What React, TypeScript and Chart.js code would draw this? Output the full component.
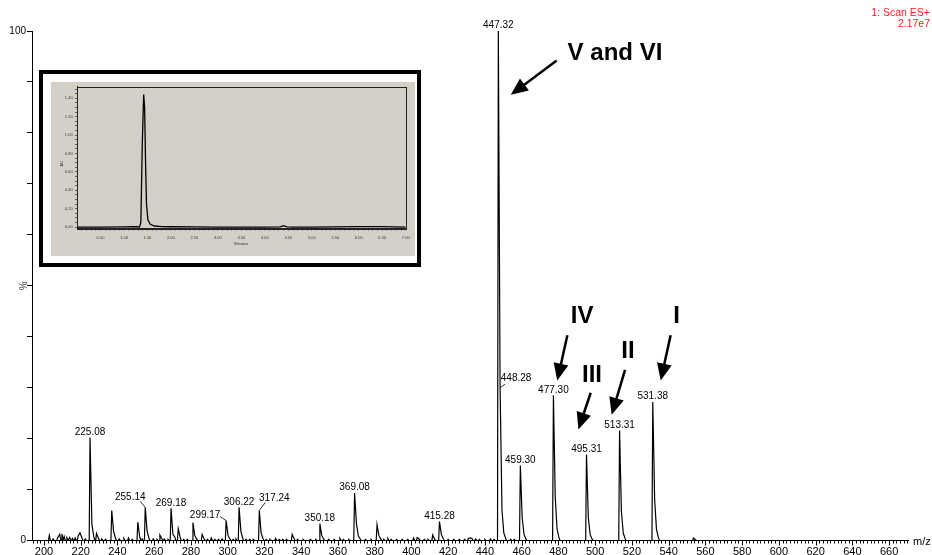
import { useEffect, useRef } from 'react';
import { Chart, registerables } from 'chart.js';

Chart.register(...registerables);

const SANS = "'Liberation Sans', Arial, Helvetica, sans-serif";

// ESI+ scan: m/z of each resolved peak and its relative intensity (% of base peak)
const peakMz = [
  202.9, 205.0, 207.5, 208.6, 209.8, 211.0, 212.5, 214.0, 215.5, 217.0, 218.6, 219.6, 220.6, 222.5,
  225.08, 226.1, 227.1, 228.6, 229.6, 231.5, 233.5,
  236.9, 237.9, 238.9, 241.0, 243.5, 246.0, 248.0,
  251.1, 252.1, 253.5, 255.14, 256.1, 257.1, 259.5, 261.5, 263.1, 264.1, 265.5, 267.5,
  269.18, 270.2, 271.2, 273.1, 274.1, 276.0, 278.0, 281.1, 282.1, 283.1, 286.1, 287.1, 289.0, 291.1, 293.0, 295.0, 297.0,
  299.17, 300.2, 301.2, 303.0, 304.5, 306.22, 307.2, 308.2, 310.0, 312.0, 314.0,
  317.24, 318.2, 319.2, 321.0, 323.0, 326.1, 328.0, 330.0, 332.0, 335.1, 336.1, 338.0, 341.0, 345.0, 348.0,
  350.18, 351.2, 352.2, 355.0, 358.0, 361.1, 363.0, 366.0,
  369.08, 370.1, 371.1, 372.1, 375.0, 378.0, 381.3, 382.3, 383.3, 385.0, 387.2, 389.0, 392.0, 395.0, 398.0,
  401.2, 403.2, 404.2, 407.0, 409.0, 411.6, 412.6,
  415.28, 416.3, 417.3, 420.0, 423.0, 426.0, 429.0, 431.0, 432.0, 433.0, 435.0, 437.0, 440.0, 443.0, 445.0,
  447.32, 448.28, 449.3, 450.3, 451.3, 454.0, 456.0,
  459.30, 460.3, 461.3, 462.3,
  477.30, 478.3, 479.3, 480.3,
  495.31, 496.3, 497.3, 498.3,
  513.31, 514.3, 515.3, 516.3,
  531.38, 532.4, 533.4, 534.4,
  553.5, 554.5,
];
const peakPct = [
  1.0, 0.3, 0.6, 1.2, 1.3, 0.8, 0.5, 0.6, 0.4, 0.5, 0.9, 1.5, 0.6, 0.3,
  20.2, 3.2, 0.8, 1.4, 0.5, 0.3, 0.2,
  5.9, 1.8, 0.5, 0.3, 0.4, 0.5, 0.2,
  3.6, 0.8, 0.3, 6.5, 2.0, 0.5, 0.3, 0.2, 1.1, 0.4, 0.3, 0.2,
  6.3, 1.2, 0.7, 2.3, 0.7, 0.2, 0.2, 3.5, 1.0, 0.3, 1.2, 0.4, 0.2, 0.5, 0.2, 0.2, 0.3,
  3.9, 1.0, 0.3, 0.2, 0.3, 6.5, 1.8, 0.4, 0.2, 0.2, 0.2,
  5.9, 1.5, 0.4, 0.2, 0.2, 0.4, 0.2, 0.2, 0.2, 1.2, 0.4, 0.2, 0.2, 0.2, 0.2,
  3.3, 1.0, 0.3, 0.2, 0.2, 0.4, 0.2, 0.2,
  9.3, 3.3, 0.9, 0.3, 0.2, 0.2, 3.1, 1.0, 0.3, 0.2, 0.4, 0.2, 0.2, 0.2, 0.2,
  0.5, 0.6, 0.3, 0.2, 0.2, 1.1, 0.3,
  3.7, 1.2, 0.4, 0.2, 0.2, 0.2, 0.2, 0.4, 0.5, 0.4, 0.3, 0.2, 0.2, 0.3, 0.2,
  100, 30, 6.0, 1.5, 0.4, 0.2, 0.2,
  14.7, 4.5, 1.2, 0.3,
  28.5, 8.5, 2.2, 0.6,
  16.9, 4.5, 1.2, 0.3,
  21.6, 5.8, 1.5, 0.4,
  27.2, 8.0, 2.2, 0.6,
  0.5, 0.2,
];

// peaks carrying a value label
const labelledMz = [
  225.08, 255.14, 269.18, 299.17, 306.22, 317.24, 350.18, 369.08, 415.28,
  447.32, 448.28, 459.30, 477.30, 495.31, 513.31, 531.38,
];

const mzTicks = [200, 220, 240, 260, 280, 300, 320, 340, 360, 380, 400, 420, 440, 460, 480, 500, 520, 540, 560, 580, 600, 620, 640, 660];
const pctTicks = [0, 10, 20, 30, 40, 50, 60, 70, 80, 90, 100];
const pctLabelled = [0, 100];
const scanHeader = ['1: Scan ES+', '2.17e7'];
const compoundNames = ['V and VI', 'IV', 'III', 'II', 'I'];

// UV chromatogram (inset)
const lcMinutes = [0.0, 0.5, 1.0, 1.2, 1.3, 1.33, 1.36, 1.39, 1.42, 1.44, 1.46, 1.48, 1.51, 1.56, 1.65, 1.8, 2.0, 2.5, 3.0, 3.5, 4.0, 4.33, 4.40, 4.47, 4.6, 5.0, 5.5, 6.0, 6.5, 7.0];
const lcAU = [0.0, 0.0, 0.003, 0.006, 0.004, 0.0, 0.05, 0.9, 1.44, 1.3, 0.7, 0.25, 0.08, 0.03, 0.012, 0.006, 0.004, 0.002, 0.0, 0.0, 0.0, 0.002, 0.016, 0.003, 0.0, 0.0, 0.003, 0.006, 0.006, 0.0];
const lcMinuteLabels = [0.5, 1.0, 1.5, 2.0, 2.5, 3.0, 3.5, 4.0, 4.5, 5.0, 5.5, 6.0, 6.5, 7.0];
const lcAULabels = [0.0, 0.2, 0.4, 0.6, 0.8, 1.0, 1.2, 1.4];

// placement of compound tags and their arrows, in axis units [m/z, %]
const compoundPlacement = [
  { text: [510.8, 95.7], from: [479.1, 94.2], to: [454.1, 87.5] },
  { text: [492.9, 43.9], from: [484.9, 40.3], to: [479.4, 31.4] },
  { text: [498.3, 32.5], from: [497.6, 29.0], to: [490.9, 21.8] },
  { text: [517.9, 37.1], from: [516.3, 33.5], to: [509.0, 24.7] },
  { text: [544.3, 43.9], from: [541.1, 40.3], to: [535.7, 31.4] },
];

// labels set beside their peak (px offsets of label centre, and leader start from the label centre)
const labelBeside: Record<string, { dx: number; dy: number; lx: number; ly: number }> = {
  '255.14': { dx: -15, dy: -10, lx: 10, ly: 4 },
  '299.17': { dx: -21, dy: -5, lx: 15, ly: 1 },
  '317.24': { dx: 15, dy: -12, lx: -9, ly: 4 },
  '448.28': { dx: 16, dy: -9, lx: -11, ly: 5.5 },
};

function spectrumProfile() {
  const pts: { x: number; y: number }[] = [{ x: 194, y: 0 }];
  for (let i = 0; i < peakMz.length; i++) {
    const m = peakMz[i];
    const joinPrev = i > 0 && m - peakMz[i - 1] <= 1.15;
    const joinNext = i < peakMz.length - 1 && peakMz[i + 1] - m <= 1.15;
    if (!joinPrev) pts.push({ x: m - 0.45, y: 0 });
    pts.push({ x: m, y: peakPct[i] });
    if (!joinNext) pts.push({ x: m + 0.6, y: 0 });
  }
  pts.push({ x: 670, y: 0 });
  return pts;
}

function arrow(ctx: CanvasRenderingContext2D, x0: number, y0: number, x1: number, y1: number) {
  const ang = Math.atan2(y1 - y0, x1 - x0);
  const head = 17;
  const half = 7.5;
  const bx = x1 - head * Math.cos(ang);
  const by = y1 - head * Math.sin(ang);
  ctx.beginPath();
  ctx.moveTo(x0, y0);
  ctx.lineTo(bx + Math.cos(ang), by + Math.sin(ang));
  ctx.lineWidth = 2.5;
  ctx.strokeStyle = '#000';
  ctx.stroke();
  ctx.beginPath();
  ctx.moveTo(x1, y1);
  ctx.lineTo(bx + half * Math.sin(ang), by - half * Math.cos(ang));
  ctx.lineTo(bx - half * Math.sin(ang), by + half * Math.cos(ang));
  ctx.closePath();
  ctx.fillStyle = '#000';
  ctx.fill();
}

const spectrumDecor = {
  id: 'spectrumDecor',
  afterDraw(chart: any) {
    const { ctx, scales } = chart;
    const xs = scales.x;
    const ys = scales.y;
    const axisY = xs.top;
    ctx.save();

    // x tick marks every 2 m/z, longer at labelled values
    ctx.strokeStyle = '#000';
    ctx.lineWidth = 1;
    for (let v = 194; v <= 670; v += 2) {
      const px = Math.round(xs.getPixelForValue(v)) + 0.5;
      const len = v % 20 === 0 ? 5 : 3;
      ctx.beginPath();
      ctx.moveTo(px, axisY);
      ctx.lineTo(px, axisY + len);
      ctx.stroke();
    }

    // x tick labels
    ctx.fillStyle = '#000';
    ctx.font = `11px ${SANS}`;
    ctx.textAlign = 'center';
    ctx.textBaseline = 'middle';
    for (const v of mzTicks) {
      ctx.fillText(String(v), xs.getPixelForValue(v), axisY + 11.5);
    }

    // axis titles
    ctx.textAlign = 'left';
    ctx.fillText('m/z', xs.right + 5, axisY + 1.5);

    ctx.save();
    ctx.translate(24, (ys.top + ys.bottom) / 2);
    ctx.rotate(-Math.PI / 2);
    ctx.font = `10px ${SANS}`;
    ctx.fillStyle = '#333';
    ctx.textAlign = 'center';
    ctx.fillText('%', 0, 0);
    ctx.restore();

    // scan header
    ctx.fillStyle = '#ff1a1a';
    ctx.font = `10.5px ${SANS}`;
    ctx.textAlign = 'right';
    ctx.fillText(scanHeader[0], 930, 13);
    ctx.fillText(scanHeader[1], 930, 24.5);

    // peak value labels
    ctx.font = `10px ${SANS}`;
    ctx.fillStyle = '#000';
    ctx.textAlign = 'center';
    ctx.lineWidth = 0.8;
    for (const m of labelledMz) {
      const i = peakMz.indexOf(m);
      const px = xs.getPixelForValue(m);
      const py = ys.getPixelForValue(peakPct[i]);
      const text = m.toFixed(2);
      const side = labelBeside[text];
      if (!side) {
        ctx.fillText(text, px, py - 5.5);
      } else {
        const cx = px + side.dx;
        const cy = py + side.dy;
        ctx.fillText(text, cx, cy);
        ctx.beginPath();
        ctx.moveTo(cx + side.lx, cy + side.ly);
        ctx.lineTo(px, py);
        ctx.stroke();
      }
    }

    // compound tags with arrows
    ctx.font = `bold 24px ${SANS}`;
    compoundNames.forEach((name, k) => {
      const p = compoundPlacement[k];
      ctx.fillStyle = '#000';
      ctx.textAlign = 'center';
      ctx.textBaseline = 'middle';
      ctx.fillText(name, xs.getPixelForValue(p.text[0]), ys.getPixelForValue(p.text[1]));
      arrow(
        ctx,
        xs.getPixelForValue(p.from[0]), ys.getPixelForValue(p.from[1]),
        xs.getPixelForValue(p.to[0]), ys.getPixelForValue(p.to[1]),
      );
    });
    ctx.restore();
  },
};

const chromFrame = {
  id: 'chromFrame',
  afterDraw(chart: any) {
    const { ctx, chartArea } = chart;
    ctx.save();
    ctx.strokeStyle = '#222';
    ctx.lineWidth = 1;
    ctx.strokeRect(
      Math.round(chartArea.left) + 0.5, Math.round(chartArea.top) + 0.5,
      Math.round(chartArea.right - chartArea.left), Math.round(chartArea.bottom - chartArea.top),
    );
    ctx.fillStyle = '#333';
    ctx.font = `4px ${SANS}`;
    ctx.textAlign = 'center';
    ctx.textBaseline = 'middle';
    ctx.fillText('Minutes', (chartArea.left + chartArea.right) / 2, 162.3);
    ctx.translate(10.7, (chartArea.top + chartArea.bottom) / 2 + 6);
    ctx.rotate(-Math.PI / 2);
    ctx.fillText('AU', 0, 0);
    ctx.restore();
  },
};

const near = (list: number[], v: number) => list.some((l) => Math.abs(l - v) < 1e-6);

export default function App() {
  const mainRef = useRef<HTMLCanvasElement>(null);
  const insetRef = useRef<HTMLCanvasElement>(null);

  useEffect(() => {
    const main = new Chart(mainRef.current as HTMLCanvasElement, {
      type: 'line',
      data: {
        datasets: [
          {
            data: spectrumProfile(),
            borderColor: '#000',
            borderWidth: 1.2,
            pointRadius: 0,
            tension: 0,
            fill: false,
          },
        ],
      },
      options: {
        responsive: false,
        animation: false,
        devicePixelRatio: 1,
        layout: { padding: { top: 31, right: 24, left: 0, bottom: 0 } },
        plugins: { legend: { display: false }, tooltip: { enabled: false } },
        scales: {
          x: {
            type: 'linear',
            min: 193.5,
            max: 670.3,
            afterFit: (s: any) => { s.height = 14.5; },
            afterBuildTicks: (s: any) => { s.ticks = mzTicks.map((v) => ({ value: v })); },
            grid: { display: false },
            border: { display: true, color: '#000', width: 1 },
            ticks: { display: false },
          },
          y: {
            min: 0,
            max: 100,
            afterFit: (s: any) => { s.width = 32; },
            afterBuildTicks: (s: any) => { s.ticks = pctTicks.map((v) => ({ value: v })); },
            grid: { drawOnChartArea: false, tickLength: 5, color: '#000' },
            border: { display: true, color: '#000', width: 1 },
            ticks: {
              font: { family: SANS, size: 10 },
              color: '#000',
              padding: 1,
              callback: (v: any) => (pctLabelled.includes(Number(v)) ? String(v) : ''),
            },
          },
        },
      },
      plugins: [spectrumDecor],
    } as any);

    const minuteTicks = Array.from({ length: 70 }, (_, i) => (i + 1) / 10);
    const auTicks = Array.from({ length: 31 }, (_, i) => i * 0.05);

    const inset = new Chart(insetRef.current as HTMLCanvasElement, {
      type: 'line',
      data: {
        datasets: [
          {
            data: lcMinutes.map((t, i) => ({ x: t, y: lcAU[i] })),
            borderColor: '#000',
            borderWidth: 1.3,
            pointRadius: 0,
            tension: 0,
            fill: false,
          },
        ],
      },
      options: {
        responsive: false,
        animation: false,
        devicePixelRatio: 1,
        layout: { padding: { top: 4, right: 5, left: 0, bottom: 0 } },
        plugins: { legend: { display: false }, tooltip: { enabled: false } },
        scales: {
          x: {
            type: 'linear',
            min: 0,
            max: 7,
            afterFit: (s: any) => { s.height = 27.5; },
            afterBuildTicks: (s: any) => { s.ticks = minuteTicks.map((v) => ({ value: v })); },
            grid: { drawOnChartArea: false, tickLength: 2, color: '#333', lineWidth: 0.7 },
            border: { display: true, color: '#222', width: 1 },
            ticks: {
              font: { family: SANS, size: 4 },
              color: '#333',
              padding: 5.4,
              maxRotation: 0,
              autoSkip: false,
              callback: (v: any) => (near(lcMinuteLabels, Number(v)) ? Number(v).toFixed(2) : ''),
            },
          },
          y: {
            min: -0.015,
            max: 1.525,
            afterFit: (s: any) => { s.width = 26; },
            afterBuildTicks: (s: any) => { s.ticks = auTicks.map((v) => ({ value: v })); },
            grid: { drawOnChartArea: false, tickLength: 2, color: '#333', lineWidth: 0.7 },
            border: { display: true, color: '#222', width: 1 },
            ticks: {
              font: { family: SANS, size: 4 },
              color: '#333',
              padding: 2.4,
              autoSkip: false,
              callback: (v: any) => (near(lcAULabels, Number(v)) ? Number(v).toFixed(2) : ''),
            },
          },
        },
      },
      plugins: [chromFrame],
    } as any);

    return () => {
      main.destroy();
      inset.destroy();
    };
  }, []);

  return (
    <div style={{ position: 'fixed', left: 0, top: 0, width: 932, height: 555, background: '#fff', overflow: 'hidden' }}>
      <canvas ref={mainRef} width={932} height={555} style={{ position: 'absolute', left: 0, top: 0 }} />
      <div
        style={{
          position: 'absolute',
          left: 39,
          top: 70,
          width: 382,
          height: 197,
          boxSizing: 'border-box',
          border: '4px solid #000',
          background: '#fff',
        }}
      />
      <canvas
        ref={insetRef}
        width={364}
        height={174}
        style={{ position: 'absolute', left: 51, top: 82, background: '#d4d0c8' }}
      />
    </div>
  );
}
